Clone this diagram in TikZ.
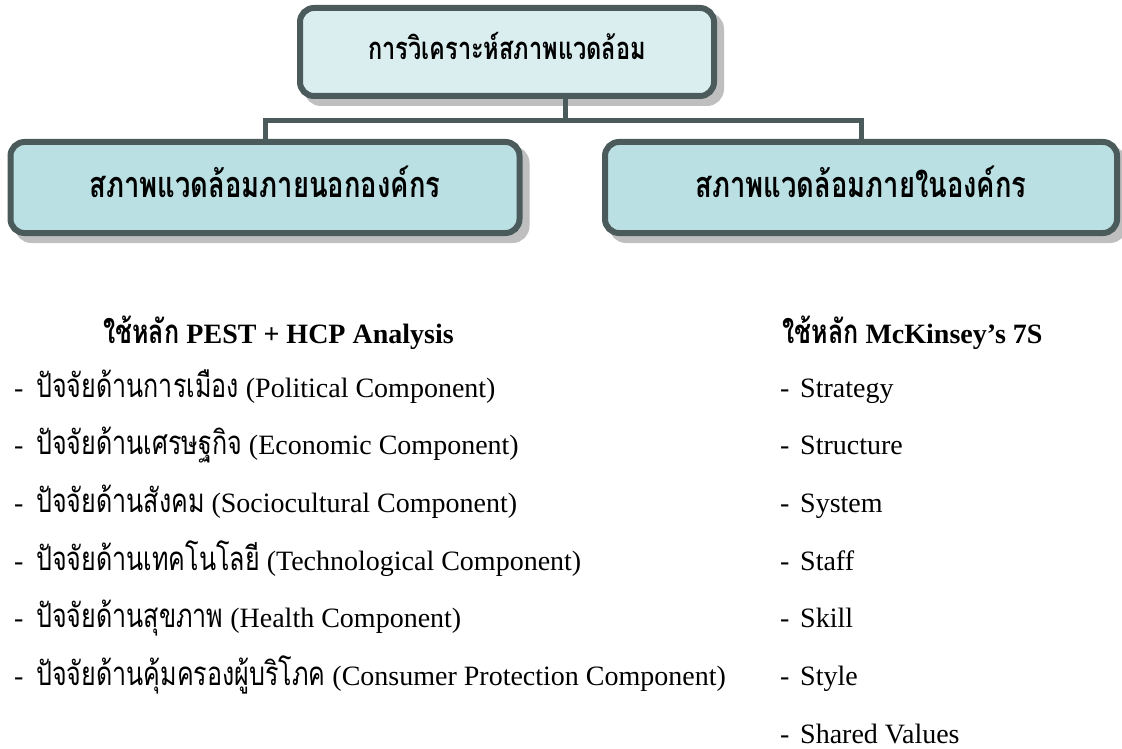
\documentclass[tikz,border=0pt]{standalone}
\usepackage{fontspec}
\setmainfont{Liberation Serif}
\newfontfamily\thai[Script=Thai,FakeStretch=0.76]{Loma}
\definecolor{edge}{HTML}{4B5A5A}
\definecolor{topfill}{HTML}{DAEEF0}
\definecolor{subfill}{HTML}{BAE0E3}
\definecolor{shade}{HTML}{BFBFBF}
\tikzset{
  card/.style={draw=edge, line width=6pt, rounded corners=14pt, inner sep=0pt, text depth=12pt,
    preaction={fill=shade, draw=shade, transform canvas={xshift=7pt,yshift=-7pt}}},
  link/.style={draw=edge, line width=5pt},
  head/.style={anchor=base west, inner sep=0pt, font=\bfseries\fontsize{28}{32}\selectfont},
  item/.style={anchor=base west, inner sep=0pt, font=\fontsize{28}{32}\selectfont},
}
\newcommand{\thx}[1]{{\thai\fontsize{33}{36}\selectfont #1}}
\begin{document}
\begin{tikzpicture}[x=1pt,y=-1pt]
\useasboundingbox (0,0) rectangle (1122,749);
\node[card, fill=topfill, minimum width=414pt, minimum height=88pt,
  font=\thai\bfseries\fontsize{31}{36}\selectfont] (top) at (507,52) {การวิเคราะห์สภาพแวดล้อม};
\node[card, fill=subfill, minimum width=509pt, minimum height=91pt,
  font=\thai\bfseries\fontsize{36}{40}\selectfont] (ext) at (265,187.5) {สภาพแวดล้อมภายนอกองค์กร};
\node[card, fill=subfill, minimum width=512pt, minimum height=91pt,
  font=\thai\bfseries\fontsize{36}{40}\selectfont] (int) at (861,187.5) {สภาพแวดล้อมภายในองค์กร};
\coordinate (stem) at (565,121);
\draw[link] (top.south -| stem) -- (stem);
\draw[link] (stem) -| (ext.north);
\draw[link] (stem) -| (int.north);

\node[head] (h1) at (103,343) {\thx{ใช้หลัก} PEST + HCP Analysis};
\node[head] (h2) at (782,343) {\thx{ใช้หลัก} McKinsey’s 7S};

\foreach \i in {0,...,5}
  \node[item] (ld\i) at (14,397+57.7*\i) {-};
\node[item] (l0) at (36,397) {\thx{ปัจจัยด้านการเมือง} (Political Component)};
\node[item] (l1) at (36,397+57.7) {\thx{ปัจจัยด้านเศรษฐกิจ} (Economic Component)};
\node[item] (l2) at (36,397+2*57.7) {\thx{ปัจจัยด้านสังคม} (Sociocultural Component)};
\node[item] (l3) at (36,397+3*57.7) {\thx{ปัจจัยด้านเทคโนโลยี} (Technological Component)};
\node[item] (l4) at (36,397+4*57.7) {\thx{ปัจจัยด้านสุขภาพ} (Health Component)};
\node[item] (l5) at (36,397+5*57.7) {\thx{ปัจจัยด้านคุ้มครองผู้บริโภค} (Consumer Protection Component)};

\foreach \t [count=\i from 0] in {Strategy,Structure,System,Staff,Skill,Style,Shared Values}{
  \node[item] (rd\i) at (780,397+57.7*\i) {-};
  \node[item] (r\i) at (800,397+57.7*\i) {\t};
}
\end{tikzpicture}
\end{document}
